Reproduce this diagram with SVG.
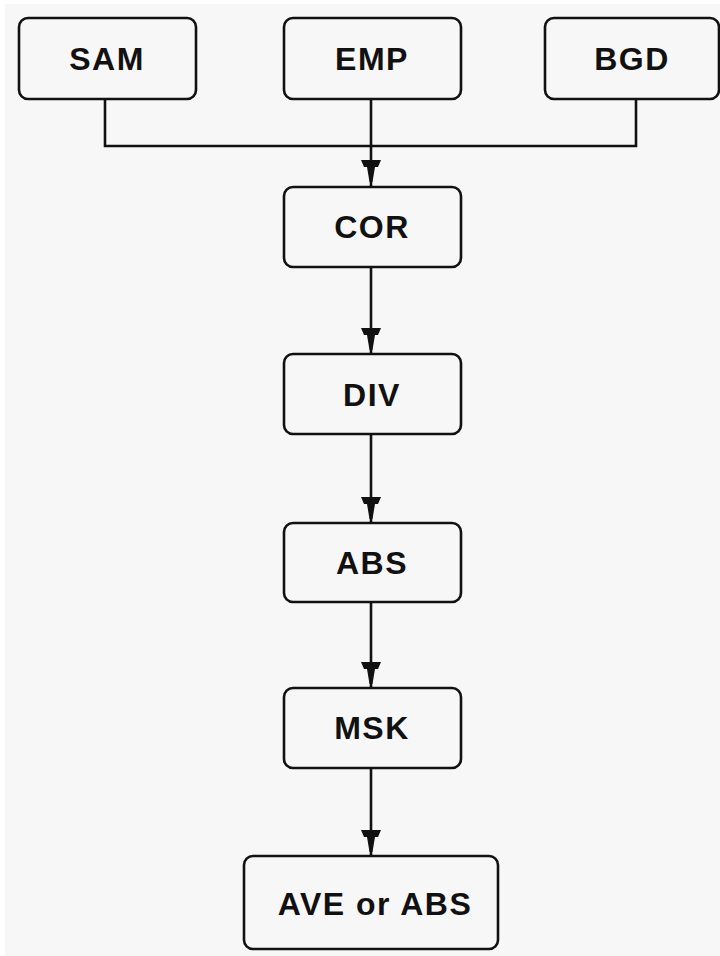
<svg xmlns="http://www.w3.org/2000/svg" width="720" height="956" viewBox="0 0 720 956">
<defs>
<style>
.box{fill:#f7f7f7;stroke:#111;stroke-width:2.6}
.lbl{font-family:"Liberation Sans",Arial,sans-serif;font-weight:bold;font-size:32px;letter-spacing:1.5px;fill:#111;text-anchor:middle;dominant-baseline:central}
.wire{fill:none;stroke:#111;stroke-width:2.6}
.head{fill:#111}
</style>
<path id="ah" d="M-10,-22 L10,-22 L7,-15 L4,-15 L1.5,0 L-1.5,0 L-4,-15 L-7,-15 Z"/>
</defs>
<rect x="0" y="0" width="720" height="956" fill="#ffffff"/>
<rect x="5" y="4" width="715" height="952" fill="#f7f7f7"/>
<g id="connectors">
<path class="wire" d="M105,99 V146 H636 V99"/>
<path class="wire" d="M371,99 V187"/>
<path class="wire" d="M371,267 V354"/>
<path class="wire" d="M371,434 V523"/>
<path class="wire" d="M371,602 V688"/>
<path class="wire" d="M371,768 V856"/>
<use href="#ah" class="head" transform="translate(371,182)"/>
<use href="#ah" class="head" transform="translate(371,350)"/>
<use href="#ah" class="head" transform="translate(371,519)"/>
<use href="#ah" class="head" transform="translate(371,684)"/>
<use href="#ah" class="head" transform="translate(371,852)"/>
</g>
<g id="SAM"><rect class="box" x="19" y="18" width="177" height="81" rx="9"/><text class="lbl" x="107" y="59">SAM</text></g>
<g id="EMP"><rect class="box" x="284" y="18" width="177" height="81" rx="9"/><text class="lbl" x="372" y="59">EMP</text></g>
<g id="BGD"><rect class="box" x="545" y="18" width="174" height="81" rx="9"/><text class="lbl" x="632" y="59">BGD</text></g>
<g id="COR"><rect class="box" x="284" y="187" width="177" height="80" rx="9"/><text class="lbl" x="372" y="227">COR</text></g>
<g id="DIV"><rect class="box" x="284" y="354" width="177" height="80" rx="9"/><text class="lbl" x="372" y="395">DIV</text></g>
<g id="ABS"><rect class="box" x="284" y="523" width="177" height="79" rx="9"/><text class="lbl" x="372" y="563">ABS</text></g>
<g id="MSK"><rect class="box" x="284" y="688" width="177" height="80" rx="9"/><text class="lbl" x="372" y="728">MSK</text></g>
<g id="AVE"><rect class="box" x="244" y="856" width="254" height="93" rx="9"/><text class="lbl" x="375" y="904">AVE or ABS</text></g>
</svg>
